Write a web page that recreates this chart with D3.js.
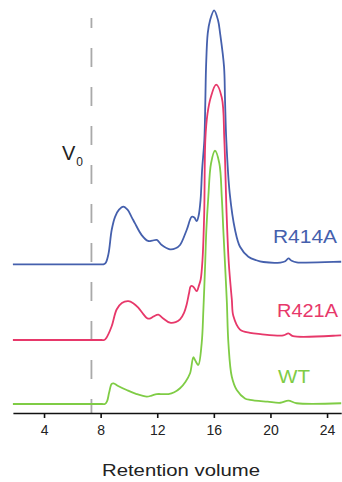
<!DOCTYPE html>
<html><head><meta charset="utf-8">
<script src="https://cdn.jsdelivr.net/npm/d3@7/dist/d3.min.js"></script>
<style>
html,body{margin:0;padding:0;background:#fff;}
svg{display:block;}
text{font-family:"Liberation Sans",Arial,Helvetica,sans-serif;}
</style></head>
<body><svg id="c" width="342" height="482"></svg>
<script>
// ---- data (retention volume, absorbance relative to each trace's baseline) ----
const xTicks = [4, 8, 12, 16, 20, 24];
const voidVolume = 7.35;
const seriesNames = ["R414A", "R421A", "WT"];
const seriesOffsets = [55, 25.2, 0];
const seriesColors = ["#4560ad", "#e7386a", "#7fcc45"];

const r414aVolume = [1.8, 8.0, 8.2, 8.35, 8.55, 8.78, 9.02, 9.3, 9.6, 9.9, 10.2, 10.43, 10.9, 11.35, 11.65, 11.97, 12.32, 12.9, 13.3, 13.61, 14.08, 14.44, 14.62, 14.79, 14.92, 15.06, 15.17, 15.33, 15.40, 15.45, 15.57, 15.73, 16.02, 16.30, 16.44, 16.72, 16.79, 16.88, 17.12, 17.5, 17.85, 18.44, 19.0, 19.5, 20.7, 21.05, 21.27, 21.5, 21.86, 24.92, 25.0];
const r414aSignal = [0, 0, 0, 0.5, 4, 13.5, 18.7, 21.5, 22.7, 21.5, 18.5, 16.1, 11.5, 9.2, 9.3, 9.6, 7.6, 5.9, 6.3, 7.6, 13.5, 18.7, 18.4, 17.0, 19, 25.3, 37.1, 49, 64.7, 77.8, 91, 96, 100, 96, 91, 77.8, 64.7, 49, 28, 13.5, 6.9, 3.0, 1.6, 0.9, 0.7, 1.2, 2.3, 1.4, 0.8, 1.0, 1.0];

const r421aVolume = [1.8, 8.05, 8.25, 8.4, 8.78, 9.13, 9.5, 9.96, 10.3, 10.66, 11.0, 11.26, 11.45, 11.75, 12.08, 12.4, 12.9, 13.3, 13.61, 13.9, 14.08, 14.25, 14.37, 14.55, 14.79, 14.95, 15.07, 15.2, 15.32, 15.4, 15.55, 15.78, 16.16, 16.56, 16.74, 16.9, 17.06, 17.27, 17.38, 17.85, 18.56, 19.3, 20.91, 21.27, 21.6, 24.92, 25.0];
const r421aSignal = [0, 0, 0, 0.8, 5.4, 12, 14.6, 15.3, 14.5, 12.7, 10.3, 8.7, 8.4, 9.3, 10, 8.6, 6.8, 7.0, 8.1, 10.8, 14, 18.5, 21.2, 21, 19.2, 21.5, 23.8, 31.7, 50, 79, 89, 95.5, 100.5, 95.5, 79, 50, 30, 16, 9.4, 4.1, 2.8, 2.3, 1.8, 2.6, 1.5, 1.8, 1.8];

const wtVolume = [1.8, 8.1, 8.3, 8.45, 8.6, 8.78, 8.92, 9.2, 9.84, 10.5, 11.26, 11.6, 11.97, 12.4, 12.79, 13.2, 13.61, 14.0, 14.32, 14.55, 14.67, 14.9, 15.14, 15.26, 15.38, 15.47, 15.61, 15.8, 16.08, 16.39, 16.56, 16.67, 16.8, 16.92, 17.03, 17.27, 17.62, 18.2, 18.56, 19.8, 20.7, 21.27, 21.86, 25.0];
const wtSignal = [0, 0, 0, 1.0, 4.5, 7.9, 8.1, 7.2, 5.5, 4.0, 2.9, 3.3, 3.9, 3.9, 3.9, 4.6, 6.2, 8.8, 12.1, 18.4, 17.3, 15.4, 23.9, 37, 54, 68.5, 81.6, 94.7, 99.7, 94.7, 81.6, 68.5, 54, 40, 23.9, 10.7, 5.5, 2.2, 1.6, 0.9, 0.5, 1.3, 0.3, 0.3];

const seriesVolumes = [r414aVolume, r421aVolume, wtVolume];
const seriesSignals = [r414aSignal, r421aSignal, wtSignal];

// ---- chart ----
const svg = d3.select("#c");
const x = d3.scaleLinear().domain([1.8, 25]).range([12.9, 341.2]);
const y = d3.scaleLinear().domain([0, 160]).range([404, 404 - 160 * 2.54]);

// void volume dashed line
svg.append("line")
  .attr("x1", x(voidVolume)).attr("x2", x(voidVolume))
  .attr("y1", 18).attr("y2", 413)
  .attr("stroke", "#a9a9a9").attr("stroke-width", 1.8)
  .attr("stroke-dasharray", "19 20").attr("stroke-dashoffset", 9);

const line = d3.line().curve(d3.curveCatmullRom.alpha(0.5));
seriesNames.forEach((name, i) => {
  const pts = seriesVolumes[i].map((v, j) => [x(v), y(seriesSignals[i][j] + seriesOffsets[i])]);
  svg.append("path").attr("d", line(pts))
    .attr("fill", "none").attr("stroke", seriesColors[i])
    .attr("stroke-width", 1.8).attr("stroke-linejoin", "round");
});

// axis
const axis = svg.append("g").attr("transform", "translate(0,413)")
  .call(d3.axisBottom(x).tickValues(xTicks).tickSize(5).tickSizeOuter(0).tickPadding(7));
axis.select(".domain").attr("stroke", "#111").attr("stroke-width", 1.6);
axis.selectAll(".tick line").attr("stroke", "#111").attr("stroke-width", 1.6);
axis.selectAll(".tick text").attr("font-size", 14).attr("fill", "#222")
  .attr("font-family", "Liberation Sans, Arial, sans-serif");

svg.append("text").attr("x", 102).attr("y", 476)
  .attr("font-size", 17).attr("fill", "#222")
  .attr("textLength", 158).attr("lengthAdjust", "spacingAndGlyphs")
  .text("Retention volume");

// series labels
const labelPos = [[273, 243, 64], [277, 317, 61], [278, 382.5, 32]];
seriesNames.forEach((name, i) => {
  svg.append("text").attr("x", labelPos[i][0]).attr("y", labelPos[i][1])
    .attr("font-size", 18.5)
    .attr("textLength", labelPos[i][2]).attr("lengthAdjust", "spacingAndGlyphs")
    .attr("fill", seriesColors[i]).text(name);
});

// V0 label
const v0 = svg.append("text").attr("x", 62).attr("y", 160).attr("fill", "#222");
v0.append("tspan").attr("font-size", 20).text("V");
v0.append("tspan").attr("font-size", 12).attr("dx", 1).attr("dy", 6).text("0");
</script></body></html>
